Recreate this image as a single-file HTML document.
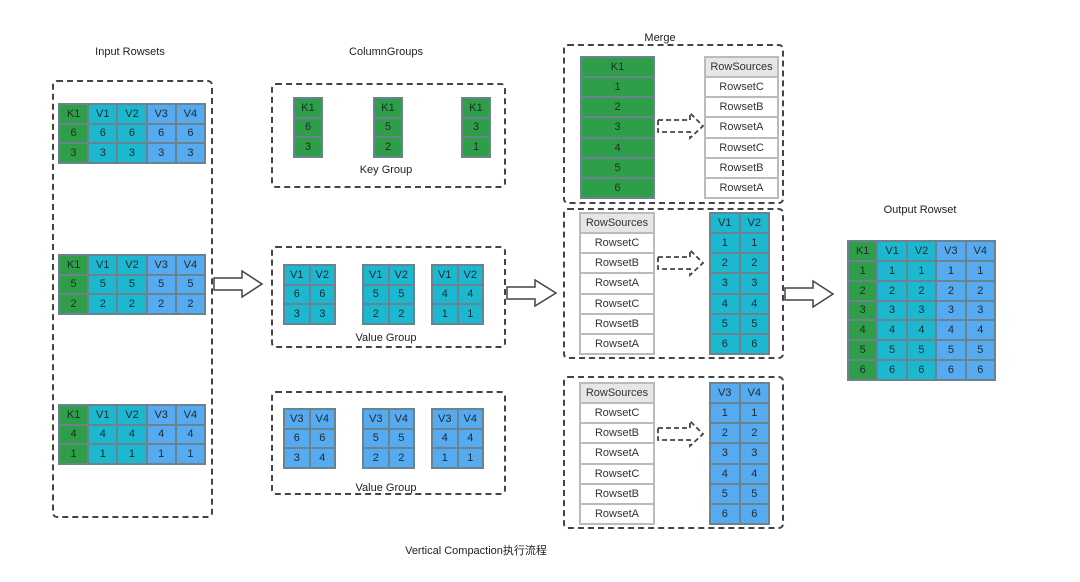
<!DOCTYPE html>
<html><head><meta charset="utf-8"><style>
body{margin:0;width:1080px;height:582px;background:#fff;position:relative;overflow:hidden;font-family:"Liberation Sans","Noto Sans CJK SC",sans-serif;color:#222}
.box{position:absolute;border:2px dashed #444;border-radius:5px;box-sizing:border-box}
.t{position:absolute;display:grid;box-sizing:border-box;border:1px solid #6a8390}
.t div{border:1px solid #6a8390;display:flex;align-items:center;justify-content:center;font-size:11px;color:#1e2a30}
.g{background:#2f9e48}.c{background:#1bb8d0}.b{background:#56aaf0}.w{background:#fff;color:#333!important}.h{background:#e6e6e6;color:#333!important}
.lb{position:absolute;font-size:11px;color:#222;white-space:nowrap;transform:translateX(-50%)}
.wt{border-color:#bbb!important}
.wt div{border-color:#bbb}
</style></head><body>
<div class="lb" style="left:130px;top:46px">Input Rowsets</div>
<div class="lb" style="left:386px;top:46px">ColumnGroups</div>
<div class="lb" style="left:660px;top:32px">Merge</div>
<div class="lb" style="left:920px;top:204px">Output Rowset</div>
<div class="lb" style="left:476px;top:542px">Vertical Compaction执行流程</div>

<div class="box" style="left:52px;top:80px;width:161px;height:438px"></div>
<div class="t" style="left:58px;top:103px;width:148px;height:61px;grid-template-columns:repeat(5,1fr)">
<div class="g">K1</div><div class="c">V1</div><div class="c">V2</div><div class="b">V3</div><div class="b">V4</div>
<div class="g">6</div><div class="c">6</div><div class="c">6</div><div class="b">6</div><div class="b">6</div>
<div class="g">3</div><div class="c">3</div><div class="c">3</div><div class="b">3</div><div class="b">3</div></div>
<div class="t" style="left:58px;top:254px;width:148px;height:61px;grid-template-columns:repeat(5,1fr)">
<div class="g">K1</div><div class="c">V1</div><div class="c">V2</div><div class="b">V3</div><div class="b">V4</div>
<div class="g">5</div><div class="c">5</div><div class="c">5</div><div class="b">5</div><div class="b">5</div>
<div class="g">2</div><div class="c">2</div><div class="c">2</div><div class="b">2</div><div class="b">2</div></div>
<div class="t" style="left:58px;top:404px;width:148px;height:61px;grid-template-columns:repeat(5,1fr)">
<div class="g">K1</div><div class="c">V1</div><div class="c">V2</div><div class="b">V3</div><div class="b">V4</div>
<div class="g">4</div><div class="c">4</div><div class="c">4</div><div class="b">4</div><div class="b">4</div>
<div class="g">1</div><div class="c">1</div><div class="c">1</div><div class="b">1</div><div class="b">1</div></div>

<div class="box" style="left:271px;top:83px;width:235px;height:105px"></div>
<div class="t" style="left:293px;top:97px;width:30px;height:61px"><div class="g">K1</div><div class="g">6</div><div class="g">3</div></div>
<div class="t" style="left:373px;top:97px;width:30px;height:61px"><div class="g">K1</div><div class="g">5</div><div class="g">2</div></div>
<div class="t" style="left:461px;top:97px;width:30px;height:61px"><div class="g">K1</div><div class="g">3</div><div class="g">1</div></div>
<div class="lb" style="left:386px;top:164px">Key Group</div>

<div class="box" style="left:271px;top:246px;width:235px;height:102px"></div>
<div class="t" style="left:283px;top:264px;width:53px;height:61px;grid-template-columns:1fr 1fr"><div class="c">V1</div><div class="c">V2</div><div class="c">6</div><div class="c">6</div><div class="c">3</div><div class="c">3</div></div>
<div class="t" style="left:362px;top:264px;width:53px;height:61px;grid-template-columns:1fr 1fr"><div class="c">V1</div><div class="c">V2</div><div class="c">5</div><div class="c">5</div><div class="c">2</div><div class="c">2</div></div>
<div class="t" style="left:431px;top:264px;width:53px;height:61px;grid-template-columns:1fr 1fr"><div class="c">V1</div><div class="c">V2</div><div class="c">4</div><div class="c">4</div><div class="c">1</div><div class="c">1</div></div>
<div class="lb" style="left:386px;top:332px">Value Group</div>

<div class="box" style="left:271px;top:391px;width:235px;height:104px"></div>
<div class="t" style="left:283px;top:408px;width:53px;height:61px;grid-template-columns:1fr 1fr"><div class="b">V3</div><div class="b">V4</div><div class="b">6</div><div class="b">6</div><div class="b">3</div><div class="b">4</div></div>
<div class="t" style="left:362px;top:408px;width:53px;height:61px;grid-template-columns:1fr 1fr"><div class="b">V3</div><div class="b">V4</div><div class="b">5</div><div class="b">5</div><div class="b">2</div><div class="b">2</div></div>
<div class="t" style="left:431px;top:408px;width:53px;height:61px;grid-template-columns:1fr 1fr"><div class="b">V3</div><div class="b">V4</div><div class="b">4</div><div class="b">4</div><div class="b">1</div><div class="b">1</div></div>
<div class="lb" style="left:386px;top:482px">Value Group</div>

<div class="box" style="left:563px;top:44px;width:221px;height:160px"></div>
<div class="t" style="left:580px;top:56px;width:75px;height:143px"><div class="g">K1</div><div class="g">1</div><div class="g">2</div><div class="g">3</div><div class="g">4</div><div class="g">5</div><div class="g">6</div></div>
<div class="t wt" style="left:704px;top:56px;width:75px;height:143px"><div class="h">RowSources</div><div class="w">RowsetC</div><div class="w">RowsetB</div><div class="w">RowsetA</div><div class="w">RowsetC</div><div class="w">RowsetB</div><div class="w">RowsetA</div></div>

<div class="box" style="left:563px;top:208px;width:221px;height:151px"></div>
<div class="t wt" style="left:579px;top:212px;width:76px;height:143px"><div class="h">RowSources</div><div class="w">RowsetC</div><div class="w">RowsetB</div><div class="w">RowsetA</div><div class="w">RowsetC</div><div class="w">RowsetB</div><div class="w">RowsetA</div></div>
<div class="t" style="left:709px;top:212px;width:61px;height:143px;grid-template-columns:1fr 1fr"><div class="c">V1</div><div class="c">V2</div><div class="c">1</div><div class="c">1</div><div class="c">2</div><div class="c">2</div><div class="c">3</div><div class="c">3</div><div class="c">4</div><div class="c">4</div><div class="c">5</div><div class="c">5</div><div class="c">6</div><div class="c">6</div></div>

<div class="box" style="left:563px;top:376px;width:221px;height:153px"></div>
<div class="t wt" style="left:579px;top:382px;width:76px;height:143px"><div class="h">RowSources</div><div class="w">RowsetC</div><div class="w">RowsetB</div><div class="w">RowsetA</div><div class="w">RowsetC</div><div class="w">RowsetB</div><div class="w">RowsetA</div></div>
<div class="t" style="left:709px;top:382px;width:61px;height:143px;grid-template-columns:1fr 1fr"><div class="b">V3</div><div class="b">V4</div><div class="b">1</div><div class="b">1</div><div class="b">2</div><div class="b">2</div><div class="b">3</div><div class="b">3</div><div class="b">4</div><div class="b">4</div><div class="b">5</div><div class="b">5</div><div class="b">6</div><div class="b">6</div></div>

<div class="t" style="left:847px;top:240px;width:149px;height:141px;grid-template-columns:repeat(5,1fr)">
<div class="g">K1</div><div class="c">V1</div><div class="c">V2</div><div class="b">V3</div><div class="b">V4</div>
<div class="g">1</div><div class="c">1</div><div class="c">1</div><div class="b">1</div><div class="b">1</div>
<div class="g">2</div><div class="c">2</div><div class="c">2</div><div class="b">2</div><div class="b">2</div>
<div class="g">3</div><div class="c">3</div><div class="c">3</div><div class="b">3</div><div class="b">3</div>
<div class="g">4</div><div class="c">4</div><div class="c">4</div><div class="b">4</div><div class="b">4</div>
<div class="g">5</div><div class="c">5</div><div class="c">5</div><div class="b">5</div><div class="b">5</div>
<div class="g">6</div><div class="c">6</div><div class="c">6</div><div class="b">6</div><div class="b">6</div></div>

<svg width="1080" height="582" style="position:absolute;left:0;top:0" fill="#fff" stroke="#444" stroke-width="1.5">
<polygon points="214,278 242,278 242,271 262,284 242,297 242,290 214,290"/>
<polygon points="507,287 535,287 535,280 556,293 535,306 535,299 507,299"/>
<polygon points="785,288 813,288 813,281 833,294 813,307 813,300 785,300"/>
<g stroke-dasharray="5,3" stroke-width="1.8">
<polygon points="658,120 690,120 690,113 703,126 690,138 690,132 658,132"/>
<polygon points="658,257 690,257 690,250 703,263 690,275 690,269 658,269"/>
<polygon points="658,428 690,428 690,421 703,434 690,446 690,440 658,440"/>
</g></svg>
</body></html>
